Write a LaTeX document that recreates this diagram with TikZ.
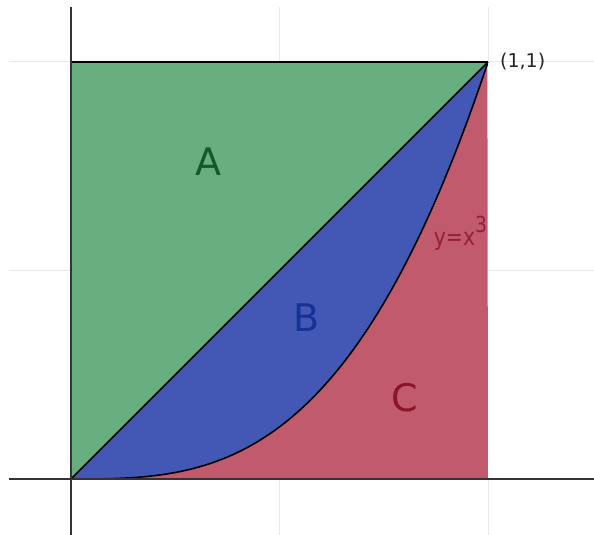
\documentclass[tikz,border=0pt]{standalone}
\usepackage{fontspec}
\setmainfont{DejaVu Sans}
\definecolor{fillA}{HTML}{67AF7F}
\definecolor{fillB}{HTML}{4258B4}
\definecolor{fillC}{HTML}{C05A6C}
\definecolor{txtA}{HTML}{145A28}
\definecolor{txtB}{HTML}{173296}
\definecolor{txtC}{HTML}{8A1428}
\definecolor{txtCurve}{HTML}{961E3C}
\definecolor{gridcol}{HTML}{E8E8E8}
\definecolor{axiscol}{HTML}{333333}
\begin{document}
\begin{tikzpicture}[x=417pt,y=417pt,
  gridline/.style={draw=gridcol,line width=1pt},
  axisline/.style={draw=axiscol,line width=2pt},
  border/.style={draw=black,line width=1.6pt,line join=round},
  biglabel/.style={inner sep=0pt,font=\fontsize{38}{44}\selectfont},
  smalllabel/.style={inner sep=0pt,font=\fontsize{19}{22}\selectfont}]
\useasboundingbox (-71pt,-56pt) rectangle (523pt,479pt);
\coordinate (O) at (0,0);
\coordinate (T) at (0,1);
\coordinate (P) at (1,1);
\coordinate (R) at (1,0);
% grid
\draw[gridline] (0.5,-56pt) -- (0.5,472pt);
\draw[gridline] (1,-56pt) -- (1,0);
\draw[gridline] (1,1) -- (1,472pt);
\draw[gridline] (-62pt,0.5) -- (0,0.5);
\draw[gridline] (1,0.5) -- (523pt,0.5);
\draw[gridline] (-62pt,1) -- (0,1);
\draw[gridline] (1,1) -- (523pt,1);
% regions
\fill[fillA] (O) -- (T) -- (P) -- cycle;
\fill[fillB] (O) -- (P) -- plot[domain=1:0,samples=100] ({\x},{\x*\x*\x}) -- cycle;
\fill[fillC] plot[domain=0:1,samples=100] ({\x},{\x*\x*\x}) -- (R) -- cycle;
% boundaries
\draw[border] (T) -- (P);
\draw[border] (O) -- (P);
\draw[border] plot[domain=0:1,samples=100] ({\x},{\x*\x*\x});
% axes
\draw[axisline] (-62pt,0) -- (523pt,0);
\draw[axisline] (0,-56pt) -- (0,472pt);
% labels
\node[biglabel,text=txtA] (lA) at (0.33,0.76) {A};
\node[biglabel,text=txtB] (lB) at (0.566,0.386) {B};
\node[biglabel,text=txtC] (lC) at (0.80,0.194) {C};
\node[inner sep=0pt,text=txtCurve,anchor=base east] (lcurve) at (0.998,0.559)
  {\scalebox{0.85}[1]{\fontsize{24}{26}\selectfont y=x\raisebox{13pt}{\fontsize{22}{22}\selectfont 3}}};
\node[smalllabel,text=black!85,anchor=west] (lP) at ([xshift=12pt]P) {(1,1)};
\end{tikzpicture}
\end{document}
